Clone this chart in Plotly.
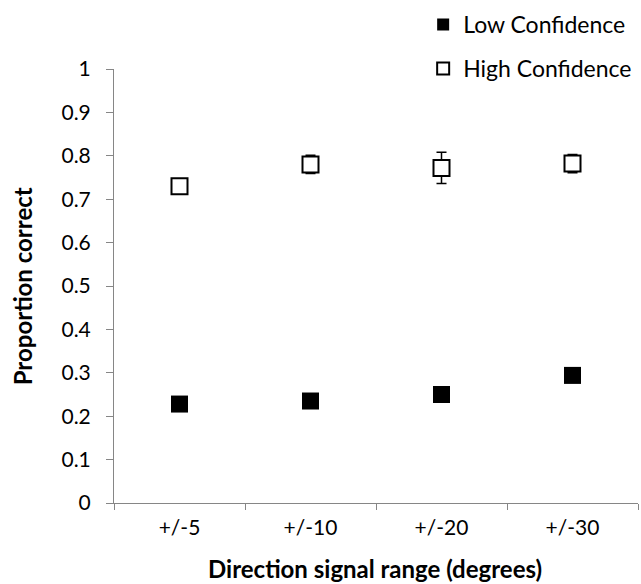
import plotly.graph_objects as go

categories = ["+/-5", "+/-10", "+/-20", "+/-30"]
low_conf = [0.228, 0.235, 0.250, 0.294]
low_err = [0.008, 0.008, 0.008, 0.008]
high_conf = [0.730, 0.780, 0.772, 0.782]
high_err = [0.010, 0.021, 0.036, 0.021]
y_ticks = [0, 0.1, 0.2, 0.3, 0.4, 0.5, 0.6, 0.7, 0.8, 0.9, 1]
y_ticklabels = ["0", "0.1", "0.2", "0.3", "0.4", "0.5", "0.6", "0.7", "0.8", "0.9", "1"]
x_title = "Direction signal range (degrees)"
y_title = "Proportion correct"

FONT = "Lato"
fig = go.Figure()
fig.add_trace(go.Scatter(
    x=categories, y=low_conf, mode="markers", name="Low Confidence",
    legendgroup="a",
    marker=dict(symbol="square", size=17, color="black", line=dict(color="black", width=0)),
    error_y=dict(type="data", array=low_err, color="black", thickness=1.5, width=5),
))
fig.add_trace(go.Scatter(
    x=categories, y=high_conf, mode="markers", name="High Confidence",
    legendgroup="b",
    marker=dict(symbol="square", size=16, color="white", line=dict(color="black", width=2)),
    error_y=dict(type="data", array=high_err, color="black", thickness=1.5, width=5),
))

fig.update_layout(
    width=641, height=584,
    margin=dict(l=114, r=3, t=63, b=81),
    paper_bgcolor="white", plot_bgcolor="white",
    font=dict(family=FONT, size=21, color="black"),
    showlegend=True,
    legend=dict(x=0.59, y=1.152, xanchor="left", yanchor="top",
                font=dict(size=23), tracegroupgap=11, itemsizing="constant",
                bgcolor="rgba(0,0,0,0)"),
    xaxis=dict(
        type="category", range=[-0.5, 3.5], tickson="boundaries",
        showline=True, linecolor="#868686", linewidth=1,
        ticks="outside", ticklen=6, tickcolor="#868686",
        showgrid=False, zeroline=False, automargin=False,
        tickfont=dict(size=21), ticklabelstandoff=6,
    ),
    yaxis=dict(
        range=[0, 1], tickvals=y_ticks, ticktext=y_ticklabels,
        showline=True, linecolor="#868686", linewidth=1,
        ticks="outside", ticklen=7, tickcolor="#868686",
        showgrid=False, zeroline=False, automargin=False,
        tickfont=dict(size=21), ticklabelstandoff=11,
    ),
    annotations=[
        dict(text="<b>" + x_title + "</b>", xref="paper", yref="paper",
             x=0.498, y=-0.151, xanchor="center", yanchor="middle",
             showarrow=False, font=dict(size=24)),
        dict(text="<b>" + y_title + "</b>", xref="paper", yref="paper",
             x=-0.175, y=0.5, xanchor="center", yanchor="middle", textangle=-90,
             showarrow=False, font=dict(size=24)),
    ],
)

fig.write_html("out.html", config={"displayModeBar": False},
               post_script="document.body.style.margin='0';document.body.style.overflow='hidden';")
